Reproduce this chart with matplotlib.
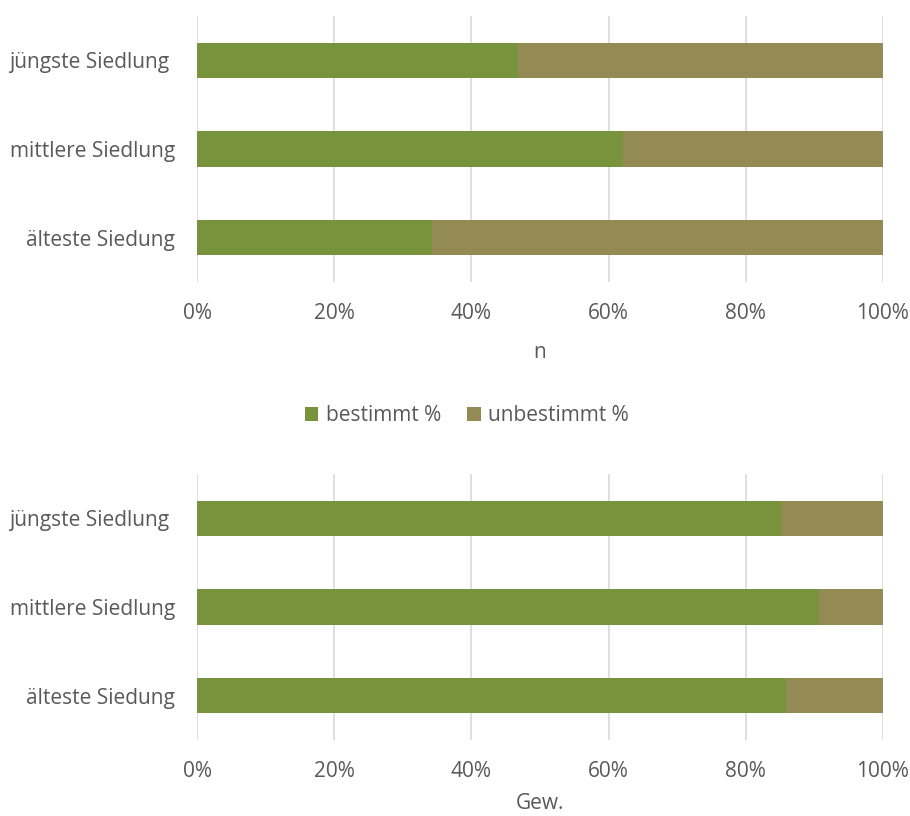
import matplotlib.pyplot as plt
from matplotlib.ticker import PercentFormatter

sites = ['älteste Siedung', 'mittlere Siedlung', 'jüngste Siedlung ']
n_bestimmt = [34.3, 62.1, 46.8]
gew_bestimmt = [85.9, 90.7, 85.2]
series = ['bestimmt %', 'unbestimmt %']
xlabels = ['n', 'Gew.']
labelpads = [13, 8]

green = '#77933C'
olive = '#948A54'
grey = '#595959'

plt.rcParams['font.family'] = ['Open Sans', 'DejaVu Sans']

fig = plt.figure(figsize=(9.1, 8.16), dpi=100)
ax1 = fig.add_axes([0.2165, 0.6544, 0.7538, 0.326])
ax2 = fig.add_axes([0.2165, 0.0931, 0.7538, 0.326])

for ax, vals, lab, lp in zip([ax1, ax2], [n_bestimmt, gew_bestimmt], xlabels, labelpads):
    rest = [100 - v for v in vals]
    b1 = ax.barh(sites, vals, height=0.4, color=green, zorder=3)
    b2 = ax.barh(sites, rest, left=vals, height=0.4, color=olive, zorder=3)
    ax.set_xlim(0, 100)
    ax.set_ylim(-0.5, 2.5)
    ax.set_xticks(range(0, 101, 20))
    ax.xaxis.set_major_formatter(PercentFormatter(decimals=0))
    ax.grid(axis='x', color='#D9D9D9', linewidth=1.2, zorder=0)
    for s in ax.spines.values():
        s.set_visible(False)
    ax.tick_params(length=0, labelsize=15, labelcolor=grey)
    ax.tick_params(axis='y', pad=16)
    ax.tick_params(axis='x', pad=15)
    ax.set_xlabel(lab, fontsize=15, color=grey, labelpad=lp)

fig.legend([b1, b2], series, loc='center', bbox_to_anchor=(0.513, 0.4905),
           ncol=2, frameon=False, fontsize=15, labelcolor=grey,
           handlelength=0.65, handleheight=0.65, handletextpad=0.35, columnspacing=1.27)

fig.savefig('out.png', dpi=100)
